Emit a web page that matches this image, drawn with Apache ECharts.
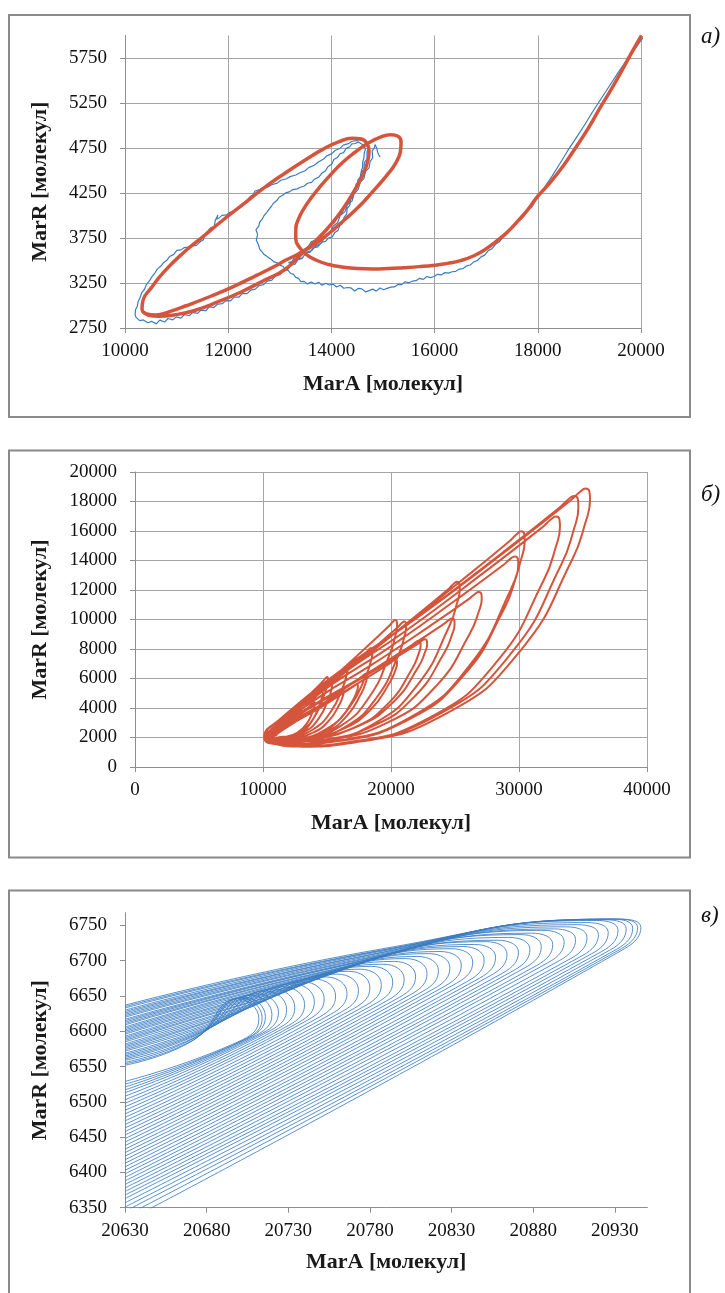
<!DOCTYPE html>
<html>
<head>
<meta charset="utf-8">
<script src="https://cdn.jsdelivr.net/npm/echarts@6/dist/echarts.min.js"></script>
<style>
  html, body { margin: 0; padding: 0; background: #ffffff; }
  #chart { width: 725px; height: 1293px; }
</style>
</head>
<body>
<div id="chart"></div>
<script>
// ---------- axis ticks ----------
const ticksAx = [10000, 12000, 14000, 16000, 18000, 20000];
const ticksAy = [2750, 3250, 3750, 4250, 4750, 5250, 5750];
const maxAy = 6000;
const ticksBx = [0, 10000, 20000, 30000, 40000];
const ticksBy = [0, 2000, 4000, 6000, 8000, 10000, 12000, 14000, 16000, 18000, 20000];
const ticksCx = [20630, 20680, 20730, 20780, 20830, 20880, 20930];
const maxCx = 20950;
const ticksCy = [6350, 6400, 6450, 6500, 6550, 6600, 6650, 6700, 6750];
const maxCy = 6768;

const axisTitleX = 'MarA [молекул]';
const axisTitleY = 'MarR [молекул]';
const panelTags = ['а)', 'б)', 'в)'];

// ---------- panel а: deterministic trajectory (MarA, MarR) ----------
const deterministicA = [
  [20010, 6000], [19800, 5790], [19600, 5580], [19400, 5380], [19200, 5190], [19000, 4990],
  [18800, 4810], [18600, 4640], [18400, 4480], [18200, 4340], [18000, 4215], [17800, 4060],
  [17600, 3930], [17400, 3810], [17200, 3715], [17000, 3630], [16750, 3550], [16500, 3498],
  [16250, 3468], [16000, 3448], [15700, 3432], [15400, 3420], [15100, 3410], [14800, 3405],
  [14500, 3410], [14200, 3428], [13950, 3455], [13720, 3500], [13530, 3560], [13390, 3640],
  [13310, 3740], [13310, 3850], [13370, 3970], [13470, 4080], [13600, 4190], [13780, 4320],
  [13980, 4450], [14200, 4580], [14450, 4700], [14700, 4800], [14950, 4870], [15150, 4898],
  [15290, 4880], [15350, 4820], [15340, 4720], [15290, 4630], [15200, 4540], [15050, 4430],
  [14900, 4330], [14700, 4200], [14500, 4080], [14250, 3950], [13950, 3800], [13650, 3670],
  [13350, 3570], [13100, 3500], [12950, 3450], [12550, 3335], [12100, 3210], [11650, 3100],
  [11200, 3000], [10850, 2930], [10600, 2895], [10420, 2905], [10330, 2960], [10350, 3060],
  [10500, 3190], [10750, 3370], [11100, 3570], [11500, 3760], [11900, 3950], [12300, 4130],
  [12700, 4310], [13100, 4470], [13500, 4620], [13850, 4740], [14150, 4820], [14400, 4858],
  [14580, 4850], [14690, 4800], [14730, 4720], [14710, 4620], [14640, 4490], [14500, 4330],
  [14300, 4140], [14050, 3940], [13750, 3750], [13450, 3590], [13100, 3400], [12700, 3280],
  [12250, 3150], [11800, 3040], [11350, 2945], [10950, 2895], [10650, 2880], [10450, 2892],
  [10360, 2930]
];

// ---------- panel а: stochastic trajectory (MarA, MarR) ----------
const stochasticA = [
  [20070,6000],[19900,5865],[19740,5740],[19560,5590],[19400,5450],[19230,5300],[19060,5150],
  [18900,5000],[18740,4860],[18580,4720],[18420,4570],[18280,4440],[18140,4320],[18040,4230],
  [17960,4170],[17880,4090],[17820,4070],[17740,4000],[17660,3950],[17600,3930],[17530,3870],
  [17460,3840],[17390,3790],[17320,3755],[17250,3705],[17180,3680],[17110,3630],[17040,3610],
  [16970,3560],[16900,3540],[16830,3500],[16760,3485],[16690,3450],[16620,3440],[16550,3410],
  [16480,3405],[16410,3380],[16340,3375],[16270,3360],[16200,3366],[16130,3340],[16060,3346],
  [15990,3322],[15920,3310],[15850,3322],[15780,3290],[15710,3302],[15640,3276],[15570,3270],
  [15500,3252],[15430,3264],[15360,3232],[15290,3234],[15220,3206],[15150,3204],[15080,3190],
  [15010,3175],[14940,3195],[14870,3160],[14800,3182],[14730,3165],[14660,3152],[14590,3185],
  [14520,3190],[14450,3162],[14380,3195],[14310,3200],[14240,3192],[14170,3225],[14100,3205],
  [14030,3238],[13960,3228],[13890,3248],[13820,3225],[13750,3258],[13680,3238],[13610,3262],
  [13540,3240],[13470,3268],[13410,3265],[13360,3302],[13310,3312],[13260,3348],[13210,3356],
  [13160,3390],[13110,3396],[13060,3436],[13010,3446],[12950,3474],[12890,3484],[12840,3510],
  [12790,3528],[12740,3550],[12690,3570],[12650,3600],[12610,3626],[12580,3684],[12545,3726],
  [12570,3790],[12538,3842],[12590,3878],[12612,3928],[12656,3956],[12696,4000],[12740,4030],
  [12786,4066],[12834,4100],[12876,4136],[12940,4166],[12986,4202],[13056,4226],[13116,4252],
  [13196,4266],[13256,4288],[13336,4296],[13396,4314],[13476,4328],[13536,4358],[13616,4368],
  [13676,4406],[13756,4426],[13816,4470],[13886,4498],[13936,4544],[14006,4568],[14046,4622],
  [14116,4644],[14166,4686],[14236,4698],[14286,4746],[14356,4764],[14396,4796],[14466,4800],
  [14516,4818],[14586,4794],[14630,4782],
  [14660,4736],[14636,4694],[14630,4636],[14606,4594],[14604,4536],[14580,4494],[14566,4436],
  [14514,4396],[14496,4326],[14444,4290],[14416,4216],[14374,4180],[14356,4112],[14304,4078],
  [14296,4014],[14244,3978],[14216,3912],[14164,3890],[14126,3832],[14064,3810],[14016,3762],
  [13944,3750],[13886,3712],[13804,3700],[13736,3652],[13644,3640],[13586,3592],[13494,3580],
  [13436,3522],[13354,3510],[13296,3460],[13214,3450],[13156,3402],[13074,3390],[13006,3342],
  [12914,3330],[12846,3282],[12754,3270],[12686,3232],[12594,3220],[12526,3182],[12434,3170],
  [12366,3132],[12274,3134],[12206,3092],[12114,3094],[12046,3052],[11954,3054],[11886,3020],
  [11794,3014],[11726,2980],[11634,2984],[11566,2942],[11474,2948],[11406,2912],[11314,2924],
  [11246,2886],[11154,2900],[11086,2860],[10994,2874],[10926,2840],[10834,2856],[10766,2816],
  [10674,2838],[10606,2796],[10514,2824],[10446,2809],[10354,2840],[10286,2832],[10214,2868],
  [10196,2896],
  [10204,2952],[10236,2988],[10254,3042],[10298,3096],[10324,3144],[10376,3178],[10414,3232],
  [10476,3276],[10524,3322],[10586,3366],[10624,3404],[10696,3438],[10744,3474],[10816,3506],
  [10864,3544],[10946,3568],[11004,3612],[11086,3618],[11144,3642],[11226,3648],[11294,3662],
  [11386,3668],[11444,3702],[11516,3728],[11554,3794],[11606,3828],[11660,3864],[11730,3876],
  [11750,3948],[11800,4006],[11772,3958],[11830,3976],[11880,4002],[11970,4008],[12020,4032],
  [12110,4048],[12160,4072],[12250,4098],[12300,4122],[12380,4150],[12410,4202],[12480,4230],
  [12520,4272],[12610,4288],[12670,4304],[12770,4318],[12840,4342],[12950,4360],[13020,4392],
  [13130,4408],[13200,4432],[13310,4450],[13380,4472],[13490,4498],[13560,4532],[13670,4558],
  [13740,4592],[13850,4628],[13910,4662],[14010,4688],[14070,4722],[14170,4748],[14230,4782],
  [14330,4798],[14390,4822],[14480,4832],[14530,4842],[14630,4828],[14680,4812],
  [14730,4756],[14690,4708],[14692,4630],[14640,4590],[14630,4510],[14570,4470],[14550,4390],
  [14480,4350],[14450,4270],[14380,4230],[14340,4150],[14260,4110],[14210,4030],[14120,4000],
  [14060,3920],[13960,3890],[13900,3820],[13790,3790],[13720,3730],[13610,3710],[13540,3640],
  [13440,3620],[13380,3560],[13290,3540],[13240,3490],[13168,3474],
  [13260,3470],[13330,3520],[13440,3530],[13510,3590],[13620,3610],[13690,3660],[13800,3690],
  [13870,3760],[13970,3800],[14030,3880],[14120,3920],[14170,4000],[14260,4040],[14310,4120],
  [14400,4160],[14440,4240],[14520,4290],[14560,4370],[14630,4410],[14660,4490],[14730,4530],
  [14750,4600],[14800,4640],[14790,4718],[14830,4752],[14846,4788],[14884,4738],[14896,4704],
  [14924,4668],[14942,4652]
];

// ---------- panel б: successive loops of the trajectory ----------
const loopsB = [
  [[11028,2060],[11115,2275],[11774,2785],[12435,3227],[13314,3873],[13868,4296],[13958,4378],[14013,4409],[14049,4382],[14055,4303],[14013,4099],[13885,3750],[13402,2920],[12699,2337],[11774,2060],[11335,2029]],
  [[10736,1894],[10667,1980],[10849,2197],[11705,2918],[12562,3542],[13702,4453],[14421,5051],[14539,5166],[14609,5210],[14656,5172],[14664,5060],[14609,4772],[14443,4280],[13816,3108],[12904,2284],[11705,1894],[11135,1849]],
  [[10492,1980],[10412,2087],[10624,2357],[11621,3255],[12620,4031],[13949,5165],[14787,5910],[14924,6053],[15007,6108],[15062,6060],[15071,5922],[15007,5563],[14813,4950],[14083,3491],[13019,2466],[11621,1980],[10957,1925]],
  [[10644,1936],[10560,2034],[10781,2280],[11816,3099],[12853,3807],[14233,4842],[15103,5521],[15246,5652],[15331,5702],[15388,5658],[15398,5532],[15331,5205],[15130,4645],[14372,3315],[13268,2379],[11816,1936],[11126,1886]],
  [[10949,1945],[10855,2029],[11103,2243],[12270,2953],[13438,3567],[14992,4464],[15972,5052],[16132,5166],[16229,5209],[16293,5171],[16304,5062],[16229,4778],[16002,4293],[15148,3140],[13905,2329],[12270,1945],[11493,1901]],
  [[10556,1967],[10449,2094],[10730,2414],[12049,3476],[13370,4396],[15127,5739],[16235,6620],[16417,6790],[16526,6855],[16598,6799],[16611,6635],[16526,6210],[16269,5484],[15304,3756],[13898,2542],[12049,1967],[11170,1902]],
  [[10860,1887],[10745,1983],[11049,2226],[12477,3034],[13907,3732],[15809,4753],[17009,5422],[17206,5551],[17324,5601],[17402,5558],[17416,5433],[17324,5111],[17046,4559],[16001,3246],[14478,2324],[12477,1887],[11526,1837]],
  [[10867,1824],[10739,1940],[11076,2234],[12656,3210],[14239,4055],[16345,5289],[17673,6099],[17891,6255],[18021,6315],[18108,6263],[18123,6112],[18021,5722],[17714,5055],[16557,3468],[14872,2352],[12656,1824],[11603,1764]],
  [[10474,1845],[10332,2005],[10707,2413],[12467,3764],[14231,4934],[16576,6643],[18055,7764],[18297,7980],[18443,8063],[18540,7991],[18556,7782],[18443,7242],[18100,6318],[16812,4121],[14935,2576],[12467,1845],[11295,1761]],
  [[10789,1909],[10619,2048],[11068,2399],[13177,3562],[15290,4570],[18099,6041],[19872,7007],[20162,7193],[20336,7264],[20452,7202],[20472,7022],[20336,6557],[19926,5762],[18382,3869],[16133,2539],[13177,1909],[11772,1838]],
  [[10591,1812],[10417,2023],[10875,2557],[13028,4329],[15185,5863],[18052,8103],[19862,9573],[20158,9856],[20336,9965],[20454,9870],[20474,9596],[20336,8888],[19917,7677],[18341,4796],[16046,2771],[13028,1812],[11594,1703]],
  [[10597,1763],[10411,1972],[10902,2503],[13207,4264],[15517,5788],[18588,8013],[20525,9474],[20842,9756],[21033,9864],[21160,9770],[21181,9498],[21033,8794],[20584,7591],[18897,4728],[16439,2716],[13207,1763],[11672,1654]],
  [[10707,1887],[10503,2059],[11041,2496],[13570,3945],[16103,5200],[19472,7032],[21597,8234],[21945,8466],[22154,8554],[22293,8477],[22316,8253],[22154,7674],[21662,6684],[19810,4328],[17115,2672],[13570,1887],[11885,1798]],
  [[10513,1936],[10297,2110],[10867,2550],[13549,4011],[16235,5275],[19807,7121],[22060,8332],[22429,8566],[22651,8655],[22798,8577],[22823,8352],[22651,7768],[22129,6770],[20166,4396],[17308,2727],[13549,1936],[11763,1846]],
  [[10731,1810],[10481,2024],[11141,2565],[14242,4359],[17348,5913],[21479,8181],[24085,9670],[24512,9957],[24768,10066],[24939,9971],[24967,9694],[24768,8977],[24165,7750],[21895,4832],[18589,2782],[14242,1810],[12176,1700]],
  [[10437,1665],[10175,1947],[10867,2661],[14121,5030],[17380,7081],[21715,10075],[24449,12041],[24897,12419],[25165,12564],[25344,12438],[25374,12072],[25165,11126],[24532,9507],[22150,5655],[18682,2948],[14121,1665],[11954,1519]],
  [[10651,1830],[10362,2089],[11124,2747],[14705,4928],[18292,6816],[23062,9573],[26071,11383],[26564,11732],[26859,11865],[27056,11749],[27089,11412],[26859,10541],[26163,9050],[23541,5503],[19724,3011],[14705,1830],[12320,1696]],
  [[10578,1686],[10237,2012],[11135,2837],[15354,5574],[19580,7943],[25199,11403],[28744,13673],[29324,14111],[29673,14278],[29905,14133],[29944,13710],[29673,12616],[28852,10746],[25764,6296],[21267,3168],[15354,1686],[12544,1518]],
  [[10781,1759],[10435,2127],[11347,3058],[15630,6148],[19922,8823],[25628,12728],[29228,15291],[29818,15785],[30171,15975],[30407,15810],[30447,15333],[30171,14098],[29338,11986],[26202,6963],[21635,3432],[15630,1759],[12777,1569]],
  [[10707,1589],[10311,1987],[11354,2996],[16254,6341],[21162,9236],[27689,13464],[31806,16240],[32481,16774],[32885,16979],[33155,16801],[33200,16284],[32885,14948],[31932,12661],[28345,7223],[23122,3400],[16254,1589],[12990,1383]],
  [[10621,1666],[10198,2099],[11312,3194],[16544,6827],[21786,9971],[28755,14563],[33152,17577],[33872,18157],[34304,18380],[34592,18185],[34640,17625],[34304,16174],[33286,13691],[29456,7785],[23878,3634],[16544,1666],[13059,1443]],
  [[10530,1607],[10090,2054],[11250,3186],[16700,6940],[22160,10190],[29420,14935],[34000,18050],[34750,18650],[35200,18880],[35500,18680],[35550,18100],[35200,16600],[34140,14034],[30150,7930],[24340,3640],[16700,1607],[13070,1376],[10530,1607]]
];

// ---------- panel в: loops entering from the left edge ----------
// entry MarR, lower-leg end (MarA, MarR), turning point (MarA, MarR),
// upper-leg start (MarA, MarR), upper-leg middle (MarA, MarR), exit MarR
const loopsC = [
  [6330,20936,6717,20946,6747,20933,6759,20788,6717,6637],
  [6338,20934,6717,20944,6747,20931,6759,20787,6715,6635],
  [6345,20931,6716,20941,6746,20928,6759,20786,6714,6633],
  [6351,20927,6715,20937,6745,20924,6758,20784,6712,6630],
  [6357,20922,6713,20932,6743,20919,6757,20781,6709,6628],
  [6363,20916,6710,20926,6740,20913,6754,20778,6707,6626],
  [6368,20910,6707,20920,6737,20907,6751,20775,6704,6624],
  [6373,20903,6703,20913,6733,20900,6748,20772,6701,6622],
  [6378,20896,6700,20906,6730,20893,6745,20768,6698,6620],
  [6383,20889,6697,20899,6727,20886,6743,20765,6695,6617],
  [6388,20882,6693,20892,6723,20879,6739,20761,6692,6615],
  [6393,20875,6690,20885,6720,20872,6737,20758,6690,6613],
  [6398,20868,6686,20878,6716,20865,6733,20754,6686,6611],
  [6403,20861,6682,20871,6712,20858,6729,20750,6683,6609],
  [6408,20854,6679,20864,6709,20851,6727,20747,6680,6606],
  [6413,20847,6675,20857,6705,20844,6723,20744,6677,6604],
  [6418,20840,6671,20850,6701,20837,6720,20740,6673,6602],
  [6423,20833,6668,20843,6698,20830,6717,20736,6669,6600],
  [6428,20826,6664,20836,6694,20823,6713,20733,6665,6598],
  [6433,20819,6660,20829,6690,20816,6710,20730,6662,6596],
  [6438,20812,6656,20822,6686,20809,6706,20726,6658,6593],
  [6443,20805,6652,20815,6682,20802,6703,20722,6654,6591],
  [6448,20798,6648,20808,6678,20795,6699,20719,6650,6589],
  [6453,20791,6644,20801,6674,20788,6695,20716,6647,6587],
  [6458,20784,6640,20794,6670,20781,6692,20712,6642,6585],
  [6463,20777,6636,20787,6666,20774,6688,20708,6638,6582],
  [6468,20770,6632,20780,6662,20767,6685,20705,6634,6580],
  [6473,20763,6628,20773,6658,20760,6681,20702,6630,6578],
  [6478,20756,6624,20766,6654,20753,6677,20698,6626,6576],
  [6483,20749,6620,20759,6650,20746,6674,20694,6621,6574],
  [6488,20742,6616,20752,6646,20739,6670,20691,6617,6572],
  [6493,20736,6612,20746,6642,20733,6667,20688,6613,6569],
  [6498,20730,6608,20740,6638,20727,6663,20685,6609,6567],
  [6503,20724,6604,20734,6634,20721,6660,20682,6605,6565],
  [6508,20719,6601,20729,6631,20716,6657,20680,6602,6563],
  [6513,20714,6597,20724,6627,20711,6653,20677,6598,6561],
  [6517,20710,6594,20720,6624,20707,6651,20675,6594,6559],
  [6521,20706,6591,20716,6621,20703,6648,20673,6591,6556],
  [6525,20704,6589,20714,6619,20701,6647,20672,6588,6554],
  [6529,20702,6588,20712,6618,20699,6646,20671,6586,6552]
];

// ---------- styling ----------
const SERIF = '"Liberation Serif", "Times New Roman", serif';
const RED = '#d4553b';
const BLUE = '#3a7cc2';
const GRID_COLOR = '#a5a5a5';
const AXIS_COLOR = '#8e8e8e';

function makeAxis(gridIndex, ticks, max, name, isX, showGrid, nameGap) {
  const endsOnTick = max === ticks[ticks.length - 1];
  return {
    type: 'value',
    gridIndex: gridIndex,
    min: ticks[0],
    max: max,
    interval: ticks[1] - ticks[0],
    name: name,
    nameLocation: 'middle',
    nameGap: nameGap,
    nameRotate: isX ? 0 : 90,
    nameTextStyle: { fontFamily: SERIF, fontWeight: 'bold', fontSize: 22, color: '#1a1a1a' },
    axisLine: { show: true, onZero: false, lineStyle: { color: AXIS_COLOR, width: 1 } },
    axisTick: { show: true, inside: false, length: 5, lineStyle: { color: AXIS_COLOR } },
    axisLabel: {
      fontFamily: SERIF, fontSize: 19, color: '#111111',
      margin: isX ? 14 : 18,
      showMinLabel: true,
      showMaxLabel: endsOnTick,
      formatter: function (v) { return String(v); }
    },
    splitLine: {
      show: showGrid,
      showMinLine: true,
      showMaxLine: endsOnTick,
      lineStyle: { color: GRID_COLOR, width: 1 }
    }
  };
}

// ---------- series ----------
const seriesList = [];

seriesList.push({
  type: 'line', xAxisIndex: 0, yAxisIndex: 0, data: stochasticA,
  showSymbol: false, smooth: false, clip: true, z: 2,
  lineStyle: { color: BLUE, width: 1.2 }
});
seriesList.push({
  type: 'line', xAxisIndex: 0, yAxisIndex: 0, data: deterministicA,
  showSymbol: false, smooth: 0.5, clip: true, z: 3,
  lineStyle: { color: RED, width: 3.5 }
});

const trajectoryB = [];
loopsB.forEach(function (loop) {
  loop.forEach(function (p) { trajectoryB.push(p); });
});
seriesList.push({
  type: 'line', xAxisIndex: 1, yAxisIndex: 1, data: trajectoryB,
  showSymbol: false, smooth: 0.5, clip: true, z: 3,
  lineStyle: { color: RED, width: 2 }
});

const leftEdgeC = ticksCx[0];
loopsC.forEach(function (r) {
  seriesList.push({
    type: 'line', xAxisIndex: 2, yAxisIndex: 2,
    data: [[leftEdgeC, r[0]], [r[1], r[2]], [r[3], r[4]], [r[5], r[6]], [r[7], r[8]], [leftEdgeC, r[9]]],
    showSymbol: false, smooth: 0.5, clip: true, z: 3,
    lineStyle: { color: BLUE, width: 0.85 }
  });
});

// ---------- frames and panel tags ----------
function frame(y, h) {
  return {
    type: 'rect', silent: true, z: 0,
    shape: { x: 9, y: y, width: 681, height: h },
    style: { fill: 'none', stroke: '#8a8a8a', lineWidth: 2 }
  };
}
function tag(text, top) {
  return {
    type: 'text', silent: true, left: 701, top: top,
    style: { text: text, font: 'italic 23px ' + SERIF, fill: '#111111' }
  };
}

const chart = echarts.init(document.getElementById('chart'), null, { renderer: 'canvas' });
chart.setOption({
  animation: false,
  backgroundColor: '#ffffff',
  grid: [
    { left: 125, top: 35.5, width: 516, height: 292.5 },
    { left: 135, top: 472, width: 512, height: 295 },
    { left: 125, top: 912.7, width: 522.4, height: 295 }
  ],
  xAxis: [
    makeAxis(0, ticksAx, ticksAx[ticksAx.length - 1], axisTitleX, true, true, 45),
    makeAxis(1, ticksBx, ticksBx[ticksBx.length - 1], axisTitleX, true, true, 45),
    makeAxis(2, ticksCx, maxCx, axisTitleX, true, false, 44)
  ],
  yAxis: [
    makeAxis(0, ticksAy, maxAy, axisTitleY, false, true, 74),
    makeAxis(1, ticksBy, ticksBy[ticksBy.length - 1], axisTitleY, false, true, 84),
    makeAxis(2, ticksCy, maxCy, axisTitleY, false, false, 74)
  ],
  graphic: [
    frame(15, 402), frame(450.5, 407), frame(890.5, 410),
    tag(panelTags[0], 25), tag(panelTags[1], 483), tag(panelTags[2], 904)
  ],
  series: seriesList
});
</script>
</body>
</html>
